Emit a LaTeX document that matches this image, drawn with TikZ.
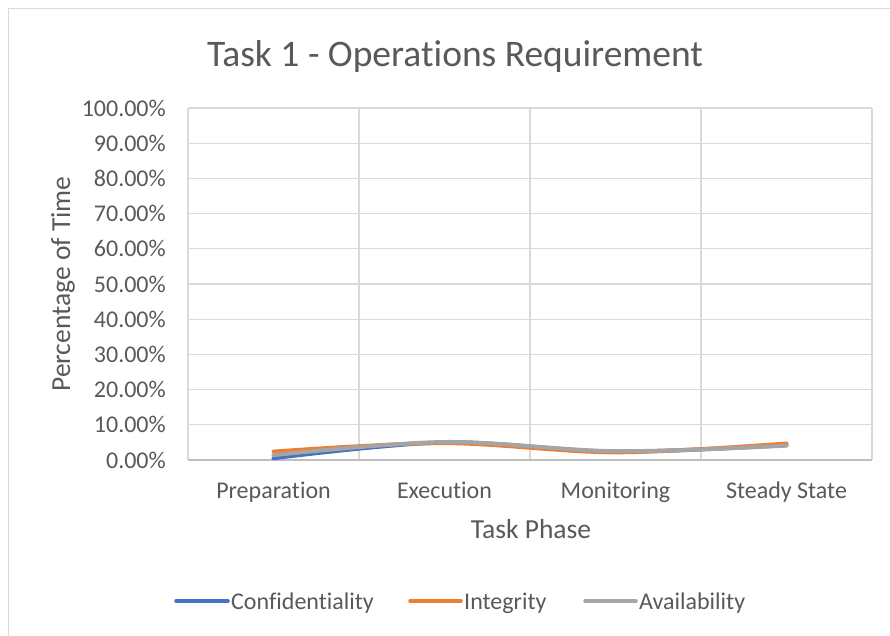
\documentclass[tikz,border=0pt]{standalone}
\usepackage{fontspec}
\setmainfont[Ligatures=NoCommon]{Carlito}
\begin{document}
\begin{tikzpicture}[x=1pt,y=-1pt,
  txt/.style={text=labelgray,inner sep=0pt,font=\fontsize{24}{24}\selectfont},
  axtitle/.style={txt,font=\fontsize{27.5}{27.5}\selectfont},
  grid/.style={draw=gridgray,line width=1.3pt},
  series/.style={line width=4pt,line cap=round,smooth,tension=0.55},
  keyline/.style={line width=3.5pt,line cap=round}]
\definecolor{labelgray}{HTML}{595959}
\definecolor{gridgray}{HTML}{D9D9D9}
\definecolor{axisgray}{HTML}{BFBFBF}
\definecolor{serblue}{HTML}{4472C4}
\definecolor{serorange}{HTML}{ED7D31}
\definecolor{sergray}{HTML}{A5A5A5}
\useasboundingbox[fill=white] (0,0) rectangle (890,635);
% chart frame
\draw[draw=gridgray,line width=1.5pt] (8.5,640) -- (8.5,8.5) -- (895,8.5);
% title
\node[txt,font=\fontsize{37.5}{37.5}\selectfont,anchor=base] (title) at (455,66) {Task 1 - Operations Requirement};
% horizontal gridlines and value labels
\foreach \v in {1,...,10} {
  \pgfmathsetmacro{\yy}{460-35.2*\v}
  \draw[grid] (188,\yy) -- (872,\yy);
  \node[txt,anchor=base east] (tick\v) at (166,\yy+8) {\v0.00\%};
}
\node[txt,anchor=base east] (tick0) at (166,468) {0.00\%};
% vertical gridlines
\foreach \xx in {359,530,701,872} \draw[grid] (\xx,108) -- (\xx,460);
\draw[grid] (188,108) -- (188,460);
% category axis
\draw[draw=axisgray,line width=1.5pt] (188,460) -- (872,460);
\node[txt,anchor=base] (catA) at (273.5,498) {Preparation};
\node[txt,anchor=base] (catB) at (444.5,498) {Execution};
\node[txt,anchor=base] (catC) at (615.5,498) {Monitoring};
\node[txt,anchor=base] (catD) at (786.5,498) {Steady State};
% axis titles
\node[axtitle,anchor=base] (xtitle) at (531,538) {Task Phase};
\node[axtitle,rotate=90,anchor=base] (ytitle) at (70,284) {Percentage of Time};
% data series
\draw[series,draw=serblue] plot coordinates {(273.5,458.2) (444.5,442.4) (615.5,451.6) (786.5,445.2)};
\draw[series,draw=serorange] plot coordinates {(273.5,451.6) (444.5,443.1) (615.5,452.3) (786.5,443.5)};
\draw[series,draw=sergray] plot coordinates {(273.5,455.1) (444.5,442.0) (615.5,451.2) (786.5,445.6)};
% legend
\coordinate (kA1) at (176,601); \coordinate (kA2) at (228,601);
\coordinate (kB1) at (410,601); \coordinate (kB2) at (461,601);
\coordinate (kC1) at (585,601); \coordinate (kC2) at (636,601);
\draw[keyline,draw=serblue] (kA1) -- (kA2);
\draw[keyline,draw=serorange] (kB1) -- (kB2);
\draw[keyline,draw=sergray] (kC1) -- (kC2);
\node[txt,anchor=base west] (legA) at (231,609) {Confidentiality};
\node[txt,anchor=base west] (legB) at (464,609) {Integrity};
\node[txt,anchor=base west] (legC) at (639,609) {Availability};
\end{tikzpicture}
\end{document}
